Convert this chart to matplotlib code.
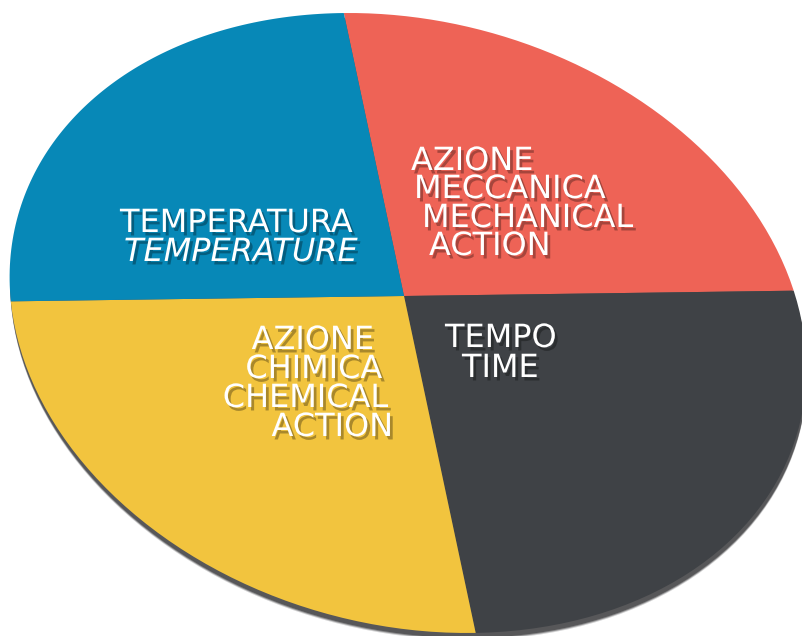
import numpy as np
import matplotlib
matplotlib.use("Agg")
import matplotlib.pyplot as plt
import matplotlib.transforms as mtransforms
import matplotlib.patheffects as pe
from matplotlib.path import Path
from matplotlib.patches import Circle

# the four factors of the washing circle, equal shares
shares = [25, 25, 25, 25]
labels_it = ["AZIONE\nMECCANICA", "TEMPO", "AZIONE\nCHIMICA", "TEMPERATURA"]
labels_en = ["MECHANICAL\nACTION", "TIME", "CHEMICAL\nACTION", "TEMPERATURE"]
colors = ["#ee6356", "#3f4246", "#f2c43e", "#0788b7"]


class Perspective(mtransforms.Transform):
    # projective map from the unit disk to picture pixels
    input_dims = 2
    output_dims = 2

    def __init__(self, H):
        super().__init__()
        self.H = H

    def transform_non_affine(self, xy):
        xy = np.atleast_2d(np.asarray(xy, float))
        p = np.column_stack([xy, np.ones(len(xy))]) @ self.H.T
        return p[:, :2] / p[:, 2:3]

    def transform_path_non_affine(self, path):
        pts = []
        for seg, code in path.iter_bezier():
            pts.append(seg(np.linspace(0, 1, 24)))
        verts = np.concatenate(pts)
        return Path(self.transform_non_affine(verts), closed=True)


# outline of the tilted disk: centre and two conjugate half-diameters (pixels)
centre = np.array([408.0, 323.0])
half_a = np.array([394.0, 0.0])
half_b = np.array([-59.0, -310.0])
hub = np.array([404.0, 296.0])  # where the slices meet

M = np.array([[half_a[0], half_b[0], centre[0]],
              [half_a[1], half_b[1], centre[1]],
              [0, 0, 1]])
# hub in disk coordinates, then a projective "boost" of the disk that moves 0 there
p = np.linalg.solve(M[:2, :2], hub - centre)
beta = np.linalg.norm(p)
n = p / beta
g = 1 / np.sqrt(1 - beta ** 2)
L = np.eye(3)
L[:2, :2] += (g - 1) * np.outer(n, n)
L[:2, 2] = g * beta * n
L[2, :2] = g * beta * n
L[2, 2] = g
persp = Perspective(M @ L)

W, Hh = 803, 636
fig = plt.figure(figsize=(W / 100, Hh / 100), dpi=100)
ax = fig.add_axes([0, 0, 1, 1])

wedges, _ = ax.pie(shares, colors=colors, startangle=91, counterclock=False,
                   wedgeprops=dict(linewidth=0))

ax.set_aspect("auto")
ax.set_xlim(0, W)
ax.set_ylim(Hh, 0)
ax.axis("off")

for w in wedges:
    w.set_transform(persp + ax.transData)
    w.set_zorder(3)

# drop shadow under the disk
for dy, a in [(-7, 0.25), (-6, 0.5), (-5, 0.8)]:
    sh = Circle((0, 0), 1, facecolor="#4a4a4c", edgecolor="none", alpha=a, zorder=1)
    sh.set_transform(persp + ax.transData + mtransforms.Affine2D().translate(0.5, dy))
    ax.add_patch(sh)

shadow = [pe.SimplePatchShadow(offset=(2, -2.5), shadow_rgbFace="black", alpha=0.3),
          pe.Normal()]
fs = 23

def put(x, y, s, ha, style="normal"):
    ax.text(x, y, s, ha=ha, va="baseline", color="white", fontsize=fs,
            fontfamily="DejaVu Sans", fontstyle=style, zorder=5,
            path_effects=shadow)

# red: AZIONE MECCANICA / MECHANICAL ACTION
red_lines = labels_it[0].split("\n") + labels_en[0].split("\n")
for s, (x, y) in zip(red_lines, [(411, 170), (414, 198), (422, 227), (429, 255)]):
    put(x, y, s, "left")

# dark: TEMPO / TIME
for s, (x, y) in zip([labels_it[1], labels_en[1]], [(445, 347), (462, 377)]):
    put(x, y, s, "left")

# yellow: AZIONE CHIMICA / CHEMICAL ACTION
yel_lines = labels_it[2].split("\n") + labels_en[2].split("\n")
for s, (x, y) in zip(yel_lines, [(374, 349), (382, 378), (388, 407), (393, 436)]):
    put(x, y, s, "right")

# blue: TEMPERATURA / TEMPERATURE (english in italic)
put(353, 232, labels_it[3], "right")
put(358, 261, labels_en[3], "right", style="italic")

fig.savefig("out.png", dpi=100, facecolor="white")
